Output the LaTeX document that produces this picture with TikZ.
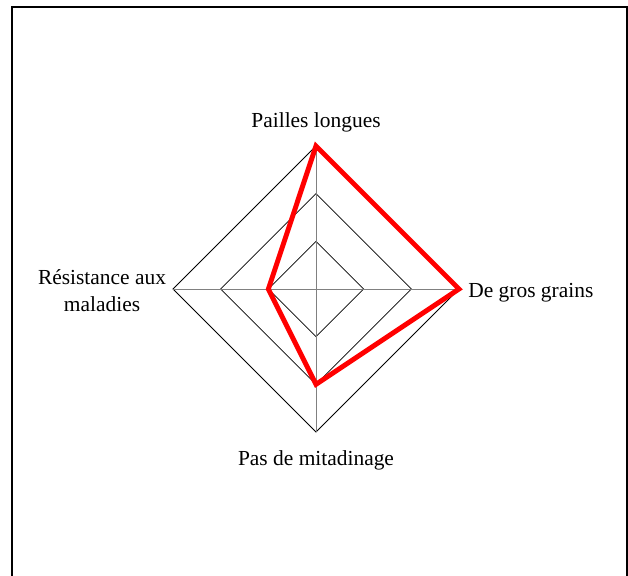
\documentclass[tikz,border=0pt]{standalone}
\usepackage{fontspec}
\setmainfont{Liberation Serif}
\usetikzlibrary{calc}
\begin{document}
\begin{tikzpicture}[x=0.02cm, y=-0.02cm,
    grille/.style={black, line width=0.45pt},
    axe/.style={gray, line width=0.55pt},
    profil/.style={red, line width=2.8pt, line join=miter},
    etiquette/.style={font=\fontsize{12.2}{15.4}\selectfont, inner sep=0pt}]

    % Cadre
    \useasboundingbox (0,0) rectangle (628,575);
    \draw[line width=0.75pt] (12,7) rectangle (627,600);

    % Centre et extremites des axes
    \coordinate (O) at (316,289);
    \coordinate (P) at (316,146);
    \coordinate (G) at (459,289);
    \coordinate (M) at (316,432);
    \coordinate (R) at (173,289);

    % Grille en losanges
    \foreach \r in {1,2,3}
        \draw[grille] ($(O)+(0,-47.67*\r)$) -- ($(O)+(47.67*\r,0)$)
            -- ($(O)+(0,47.67*\r)$) -- ($(O)+(-47.67*\r,0)$) -- cycle;

    % Axes
    \foreach \a in {P,G,M,R}
        \draw[axe] (O) -- (\a);

    % Profil (3, 3, 2, 1)
    \coordinate (p1) at (P);
    \coordinate (p2) at (G);
    \coordinate (p3) at ($(O)!0.6667!(M)$);
    \coordinate (p4) at ($(O)!0.3333!(R)$);
    \draw[profil] (p1) -- (p2) -- (p3) -- (p4) -- cycle;

    % Etiquettes
    \node[etiquette, anchor=base] (lp) at (316,127) {Pailles longues};
    \node[etiquette, anchor=base west] (lg) at (468,297) {De gros grains};
    \node[etiquette, anchor=base] (lm) at (316,465) {Pas de mitadinage};
    \node[etiquette, align=center] (lr) at (102,291) {Résistance aux\\maladies};

\end{tikzpicture}
\end{document}
